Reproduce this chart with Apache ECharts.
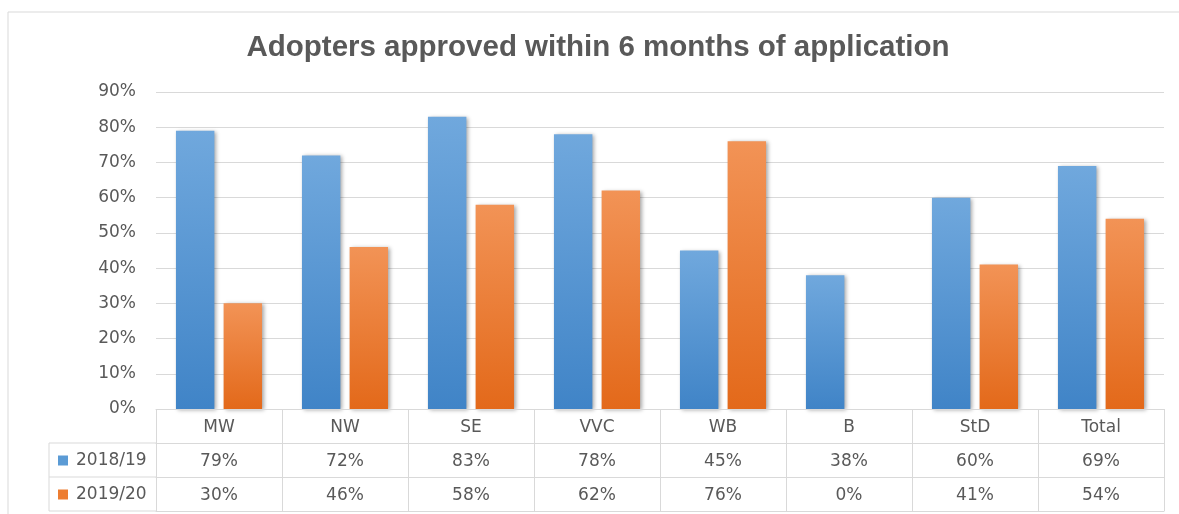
<!DOCTYPE html>
<html>
<head>
<meta charset="utf-8">
<script src="https://cdn.jsdelivr.net/npm/echarts@6/dist/echarts.min.js"></script>
<style>
  html, body { margin: 0; padding: 0; background: #fff; }
  #chart { width: 1179px; height: 514px; }
</style>
</head>
<body>
<div id="chart"></div>
<script>
// data
const categories = ['MW', 'NW', 'SE', 'VVC', 'WB', 'B', 'StD', 'Total'];
const seriesNames = ['2018/19', '2019/20'];
const rate1819 = [0.79, 0.72, 0.83, 0.78, 0.45, 0.38, 0.60, 0.69];
const rate1920 = [0.30, 0.46, 0.58, 0.62, 0.76, 0, 0.41, 0.54];
const yTicks = [0, 0.1, 0.2, 0.3, 0.4, 0.5, 0.6, 0.7, 0.8, 0.9];

const W = 1179, H = 514;
const gridLeft = 156, gridRight = 15, gridTop = 92, gridBottom = 105;
const rowH = 34;
const lineColor = '#d9d9d9';
const textColor = '#595959';
const font = 'DejaVu Sans';

const pct = v => Math.round(v * 100) + '%';

function grad(top, bottom) {
  return new echarts.graphic.LinearGradient(0, 0, 0, 1, [
    {offset: 0, color: top},
    {offset: 1, color: bottom}
  ]);
}

const chart = echarts.init(document.getElementById('chart'));

const axisY0 = H - gridBottom; // 0% line / top of table
const tableLeft = 49;

// table rows: categories, then one row per series
const tableAxes = [rate1819, rate1920, null].map((vals, i) => ({
  type: 'category',
  gridIndex: 0,
  position: 'bottom',
  offset: rowH * (i + 1),
  data: categories,
  axisLine: {show: true, lineStyle: {color: lineColor, width: 1}},
  axisTick: {show: false},
  axisLabel: {
    show: !!vals,
    margin: 10,
    fontFamily: font,
    fontSize: 17,
    color: textColor,
    interval: 0,
    formatter: (v, idx) => vals ? pct(vals[idx]) : ''
  }
}));

const option = {
  backgroundColor: '#fff',
  animation: false,
  title: {
    text: 'Adopters approved within 6 months of application',
    left: 593,
    top: 28,
    textAlign: 'center',
    textStyle: {
      fontFamily: 'Liberation Sans',
      fontWeight: 'bold',
      fontSize: 29.5,
      color: textColor
    }
  },
  legend: {
    orient: 'vertical',
    left: 58,
    top: axisY0 + rowH + 9,
    padding: 0,
    itemWidth: 10,
    itemHeight: 10,
    itemGap: 17,
    icon: 'rect',
    selectedMode: false,
    textStyle: {fontFamily: font, fontSize: 17, color: textColor, padding: [0, 0, 0, 3]},
    data: [
      {name: seriesNames[0], itemStyle: {color: '#5b9bd5'}},
      {name: seriesNames[1], itemStyle: {color: '#ed7d31'}}
    ]
  },
  grid: {left: gridLeft, right: gridRight, top: gridTop, bottom: gridBottom},
  xAxis: [{
    type: 'category',
    data: categories,
    axisLine: {show: true, lineStyle: {color: lineColor, width: 1}},
    axisTick: {show: true, length: rowH * 3, lineStyle: {color: lineColor, width: 1}},
    axisLabel: {margin: 10, fontFamily: font, fontSize: 17, color: textColor, interval: 0},
    z: 3
  }].concat(tableAxes),
  yAxis: {
    type: 'value',
    min: yTicks[0],
    max: yTicks[yTicks.length - 1],
    interval: 0.1,
    axisLine: {show: false},
    axisTick: {show: false},
    splitLine: {lineStyle: {color: lineColor, width: 1}},
    axisLabel: {margin: 20, fontFamily: font, fontSize: 17, color: textColor, formatter: pct}
  },
  series: [
    {
      name: seriesNames[0],
      type: 'bar',
      data: rate1819,
      barWidth: '30.5%',
      barGap: '24%',
      itemStyle: {
        color: grad('#70a8dd', '#4084c7'),
        shadowColor: 'rgba(0,0,0,0.35)',
        shadowBlur: 4,
        shadowOffsetX: 2,
        shadowOffsetY: 1
      }
    },
    {
      name: seriesNames[1],
      type: 'bar',
      data: rate1920,
      barWidth: '30.5%',
      barGap: '24%',
      itemStyle: {
        color: grad('#f29356', '#e3691a'),
        shadowColor: 'rgba(0,0,0,0.35)',
        shadowBlur: 4,
        shadowOffsetX: 2,
        shadowOffsetY: 1
      }
    }
  ],
  graphic: [
    // outer chart border
    {type: 'rect', shape: {x: 8, y: 12, width: W, height: H}, style: {fill: null, stroke: lineColor, lineWidth: 1}, silent: true},
    // legend column of the data table
    {type: 'line', shape: {x1: tableLeft, y1: axisY0 + rowH, x2: gridLeft, y2: axisY0 + rowH}, style: {stroke: lineColor, lineWidth: 1}},
    {type: 'line', shape: {x1: tableLeft, y1: axisY0 + rowH * 2, x2: gridLeft, y2: axisY0 + rowH * 2}, style: {stroke: lineColor, lineWidth: 1}},
    {type: 'line', shape: {x1: tableLeft, y1: axisY0 + rowH * 3, x2: gridLeft, y2: axisY0 + rowH * 3}, style: {stroke: lineColor, lineWidth: 1}},
    {type: 'line', shape: {x1: tableLeft, y1: axisY0 + rowH, x2: tableLeft, y2: axisY0 + rowH * 3}, style: {stroke: lineColor, lineWidth: 1}}
  ]
};

chart.setOption(option);
</script>
</body>
</html>
